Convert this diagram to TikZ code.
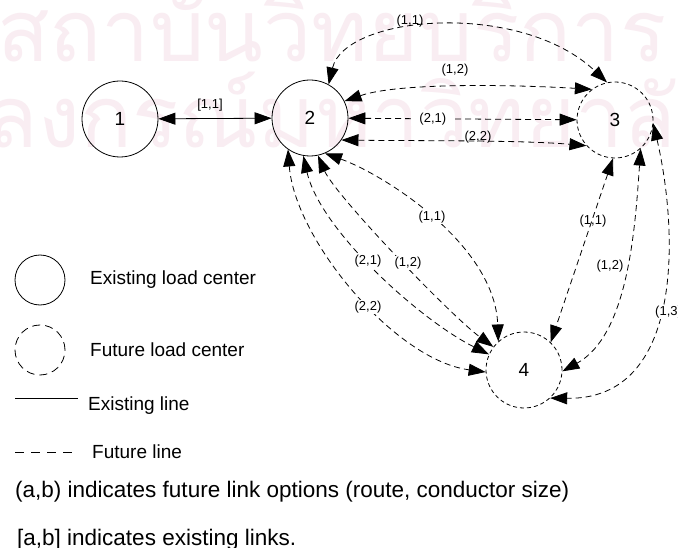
\documentclass[tikz,border=0pt]{standalone}
\usepackage{fontspec}
\setmainfont{Liberation Sans}
\newfontfamily\thaifont[Script=Thai]{Loma}
\usetikzlibrary{arrows.meta}
\definecolor{wmark}{RGB}{249,237,242}
\begin{document}
\begin{tikzpicture}[x=1pt,y=-1pt,
  load/.style={circle, draw, line width=0.8pt, minimum size=76pt, inner sep=0pt,
    font=\fontsize{19}{22}\selectfont},
  futload/.style={load, dash pattern=on 4pt off 3pt},
  link/.style={line width=0.8pt,
    {Triangle[length=17pt,width=12pt]}-{Triangle[length=17pt,width=12pt]}},
  flink/.style={link, dash pattern=on 6pt off 4pt},
  lab/.style={font=\fontsize{13}{15}\selectfont, inner sep=1pt},
  wlab/.style={lab, fill=white},
  legend/.style={font=\fontsize{19}{22}\selectfont, anchor=west, inner sep=0pt},
  note/.style={font=\fontsize{22.5}{26}\selectfont, anchor=west, inner sep=0pt},
  wm/.style={text=wmark, font=\thaifont\fontsize{86}{100}\selectfont, inner sep=0pt},
]
\useasboundingbox (0,0) rectangle (678,548);
\clip (0,0) rectangle (678,548);
\fill[white] (0,0) rectangle (678,548);

% watermark
\node[wm, anchor=base west] (wmA) at (-3,62) {สถาบันวิทยบริการ};
\node[wm, anchor=base west] (wmB) at (-172,148) {จุฬาลงกรณ์มหาวิทยาลัย};

% load centers
\node[load] (n1) at (120,119) {1};
\node[load] (n2) at (310,118) {2};
\node[futload] (n3) at (615,120) {3};
\node[futload] (n4) at (524,370) {4};

% existing link
\draw[link] (n1) -- (n2);
\node[lab] (l11) at (210,105) {[1,1]};

% future links 2-3
\draw[flink] (n2.61) .. controls (345,15) and (520,0) .. (n3.102);
\node[lab] (a11) at (410,21) {(1,1)};
\draw[flink] (n2.26) .. controls (400,82) and (520,85) .. (n3.127);
\node[lab] (a12) at (455,70) {(1,2)};
\draw[flink] (n2) -- node[wlab, pos=0.37, inner xsep=8pt] (a21) {(2,1)} (n3);
\draw[flink] (n2.-35) .. controls (420,141) and (520,140) .. (n3.222);
\node[lab] (a22) at (478,137) {(2,2)};

% future links 3-4
\draw[flink] (n3.-93) -- (n4.46);
\node[lab] (b11) at (593,221) {(1,1)};
\draw[flink] (n3.-48) .. controls (635,230) and (628,335) .. (n4.-2);
\node[lab] (b12) at (610,266) {(1,2)};
\draw[flink] (n3.-5) .. controls (678,230) and (685,400) .. (n4.-47);
\node[wlab, anchor=west] (b13) at (654,312) {(1,3)};

% future links 2-4
\draw[flink] (n2.-67) .. controls (385,175) and (495,245) .. (n4.132);
\node[wlab] (c11) at (432,217) {(1,1)};
\draw[flink] (n2.-78) .. controls (335,195) and (450,315) .. (n4.143);
\node[wlab] (c12) at (408,263) {(1,2)};
\draw[flink] (n2.-100) .. controls (320,230) and (420,320) .. (n4.156);
\node[wlab] (c21) at (368,261) {(2,1)};
\draw[flink] (n2.-125) .. controls (295,240) and (395,360) .. (n4.183);
\node[wlab] (c22) at (368,307) {(2,2)};

% legend
\node[load, minimum size=50pt] (lgA) at (40,280) {};
\node[legend] (lgAt) at (90,280) {Existing load center};
\node[load, minimum size=50pt, dash pattern=on 8pt off 5pt] (lgB) at (40,350) {};
\node[legend] (lgBt) at (90,350) {Future load center};
\coordinate (lgCa) at (15,398);
\coordinate (lgCb) at (78,398);
\draw[line width=0.8pt] (lgCa) -- (lgCb);
\node[legend] (lgCt) at (88,406) {Existing line};
\coordinate (lgDa) at (15,452);
\coordinate (lgDb) at (78,452);
\draw[line width=0.8pt, dash pattern=on 9pt off 7pt] (lgDa) -- (lgDb);
\node[legend] (lgDt) at (92,452) {Future line};
\node[note] (noteA) at (15,492) {(a,b) indicates future link options (route, conductor size)};
\node[note] (noteB) at (17,540) {[a,b] indicates existing links.};
\end{tikzpicture}
\end{document}
